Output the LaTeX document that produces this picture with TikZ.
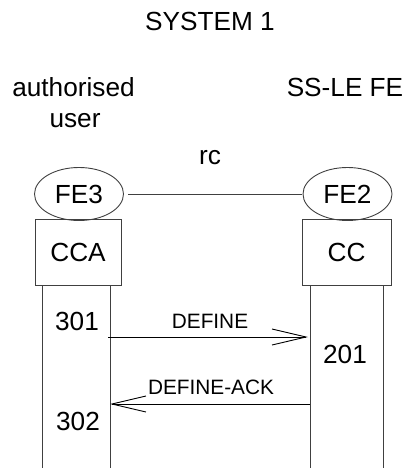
\documentclass[tikz,border=0pt]{standalone}
\usepackage{fontspec}
\setmainfont{Liberation Sans}
\usetikzlibrary{arrows.meta}
\begin{document}
\begin{tikzpicture}[x=1pt,y=-1pt,
  big/.style={font=\fontsize{26.2}{30}\selectfont, inner sep=0pt},
  small/.style={font=\fontsize{20.8}{24}\selectfont, inner sep=0pt},
  shp/.style={draw=black!75, line width=0.9pt},
  msg/.style={draw=black, line width=0.9pt, -{Straight Barb[length=34pt,width=16pt,line width=0.9pt]}}]
\useasboundingbox (0,0) rectangle (406,468);
% titles
\node[big, anchor=base] (sys) at (210,31) {SYSTEM 1};
\node[big, anchor=base] (au1) at (73.5,97) {authorised};
\node[big, anchor=base] (au2) at (75,128) {user};
\node[big, anchor=base] (ss) at (345,97) {SS-LE FE};
\node[big, anchor=base] (rc) at (210,164) {rc};
% ellipses
\draw[shp] (79,194) ellipse [x radius=44.5, y radius=26.5];
\node[big] (fe3) at (79,194) {FE3};
\draw[shp] (347.5,194) ellipse [x radius=44.5, y radius=26.5];
\node[big] (fe2) at (347.5,194) {FE2};
\coordinate (l1) at (128,194);
\coordinate (l2) at (302,194);
\draw[shp] (l1) -- (l2);
% boxes
\node[shp, minimum width=86pt, minimum height=66pt, inner sep=0pt, font=\fontsize{26.2}{30}\selectfont] (cca) at (78,252) {CCA};
\node[shp, minimum width=89pt, minimum height=66pt, inner sep=0pt, font=\fontsize{26.2}{30}\selectfont] (cc) at (346.5,252) {CC};
% lifelines
\coordinate (a1) at (42,285); \coordinate (a1e) at (42,468);
\coordinate (a2) at (110,285); \coordinate (a2e) at (110,468);
\coordinate (b1) at (310,285); \coordinate (b1e) at (310,468);
\coordinate (b2) at (383,285); \coordinate (b2e) at (383,468);
\draw[shp] (a1) -- (a1e);
\draw[shp] (a2) -- (a2e);
\draw[shp] (b1) -- (b1e);
\draw[shp] (b2) -- (b2e);
% messages
\coordinate (m1s) at (108,337); \coordinate (m1e) at (308,337);
\draw[msg] (m1s) -- (m1e);
\coordinate (m2s) at (310,404); \coordinate (m2e) at (110,404);
\draw[msg] (m2s) -- (m2e);
\node[small, anchor=base] (def) at (210,328) {DEFINE};
\node[small, anchor=base] (ack) at (211,394) {DEFINE-ACK};
\node[big, anchor=base] (n301) at (77,330) {301};
\node[big, anchor=base] (n201) at (345,363) {201};
\node[big, anchor=base] (n302) at (78,430) {302};
\end{tikzpicture}
\end{document}
